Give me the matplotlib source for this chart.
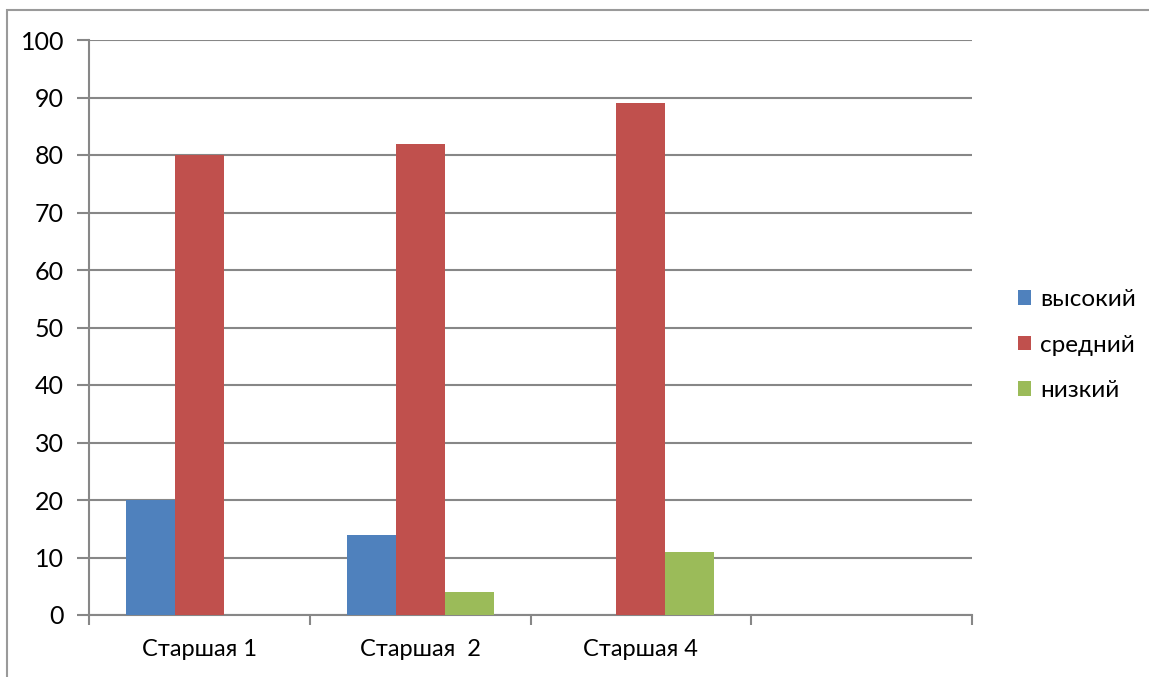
import numpy as np
import matplotlib.pyplot as plt
from matplotlib.patches import Rectangle

groups = ['Старшая 1', 'Старшая  2', 'Старшая 4', '']
series = ['высокий', 'средний', 'низкий']
vysokiy = [20, 14, 0, 0]
sredniy = [80, 82, 89, 0]
nizkiy = [0, 4, 11, 0]
colors = ['#4F81BD', '#C0504D', '#9BBB59']

plt.rcParams['font.family'] = ['Lato', 'DejaVu Sans']
grey = '#878787'

fig = plt.figure(figsize=(11.49, 6.77), dpi=100)
W, H = 1149, 677
ax = fig.add_axes([89 / W, 1 - 615 / H, (972 - 89) / W, (615 - 40) / H])

x = np.arange(len(groups))
w = 1 / 4.5
bars = []
for i, (vals, c) in enumerate(zip([vysokiy, sredniy, nizkiy], colors)):
    b = ax.bar(x + (i - 1) * w, vals, width=w, color=c, label=series[i], zorder=3)
    bars.append(b)

ax.set_xlim(-0.5, len(groups) - 0.5)
ax.set_ylim(0, 100)
ax.set_yticks(range(0, 101, 10))
ax.yaxis.grid(True, color=grey, linewidth=1.5, zorder=0)
ax.set_axisbelow(True)

ax.set_xticks(x)
ax.set_xticklabels(groups, fontsize=17)
ax.set_xticks(np.arange(-0.5, len(groups), 1), minor=True)
ax.tick_params(axis='x', which='major', length=0, pad=17)
ax.tick_params(axis='x', which='minor', length=7, width=1.5, color=grey)
ax.tick_params(axis='y', length=9, width=1.5, color=grey, labelsize=18, pad=9)

for s in ['top', 'right']:
    ax.spines[s].set_visible(False)
for s in ['left', 'bottom']:
    ax.spines[s].set_color(grey)
    ax.spines[s].set_linewidth(1.5)

fig.legend(handles=[b[0] for b in bars], labels=series, loc='center left',
           bbox_to_anchor=(996 / W, 1 - 345 / H), frameon=False, fontsize=17.5,
           handlelength=0.55, handleheight=0.55, handletextpad=0.35,
           labelspacing=1.0)

# outer chart border (only top and left edges visible)
fig.patches.append(Rectangle((7 / W, -0.1), 1.2, 1 - 10 / H + 0.1,
                             transform=fig.transFigure, fill=False,
                             edgecolor='#9a9a9a', linewidth=1.5))

fig.savefig('out.png', dpi=100)
